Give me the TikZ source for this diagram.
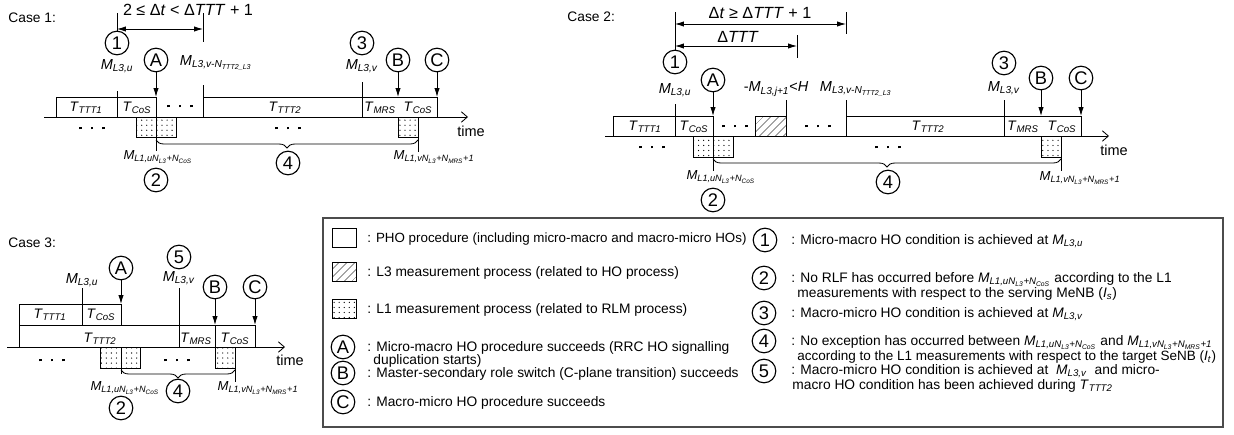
\documentclass[tikz,border=0pt]{standalone}
\usepackage{fontspec}
\setmainfont{Liberation Sans}
\usepackage{tikz}
\usetikzlibrary{arrows.meta, patterns.meta, decorations.pathreplacing}

\newcommand{\Mi}[1]{\textit{M}\textsubscript{\textit{#1}}}
\newcommand{\Ti}[1]{\textit{T}\textsubscript{\textit{#1}}}
\newcommand{\MuL}{\textit{M}\textsubscript{\textit{L1,uN}\textsubscript{\textit{L3}}\textit{+N}\textsubscript{\textit{CoS}}}}
\newcommand{\MvL}{\textit{M}\textsubscript{\textit{L1,vN}\textsubscript{\textit{L3}}\textit{+N}\textsubscript{\textit{MRS}}\textit{+1}}}
\newcommand{\MvN}{\textit{M}\textsubscript{\textit{L3,v-N}\textsubscript{\textit{TTT2\_L3}}}}
\newcommand{\tdots}{\rule{2.1pt}{2.1pt}\hspace{6.4pt}\rule{2.1pt}{2.1pt}\hspace{6.4pt}\rule{2.1pt}{2.1pt}}

\begin{document}
\begin{tikzpicture}[x=0.025cm, y=-0.025cm, line width=0.6pt,
    lab/.style={font=\fontsize{10.3}{12}\selectfont, inner sep=0pt},
    small/.style={font=\fontsize{9.3}{11}\selectfont, inner sep=0pt},
    tlab/.style={font=\fontsize{9.8}{11}\selectfont, inner sep=0pt},
    big/.style={font=\fontsize{11.5}{13}\selectfont, inner sep=0pt},
    num/.style={circle, draw, line width=0.8pt, minimum size=0.59cm,
                inner sep=0pt, font=\fontsize{13}{14}\selectfont},
    txt/.style={anchor=base west, yshift=-0.12cm, inner sep=0pt,
                font=\fontsize{9.8}{11.5}\selectfont},
    key/.style={draw, minimum width=0.6cm, minimum height=0.475cm, inner sep=0pt},
    dotbox/.style={draw, pattern={Dots[distance=3.6pt,radius=0.45pt]}},
    hatchbox/.style={draw, pattern={Lines[angle=45,distance=4pt,line width=0.45pt]}},
    brc/.style={decorate, decoration={brace, amplitude=0.2cm}},
    arr/.style={-{Latex[length=2.2mm,width=1.3mm]}},
    darr/.style={{Latex[length=2.2mm,width=1.3mm]}-{Latex[length=2.2mm,width=1.3mm]}},
    axarr/.style={-{Straight Barb[length=1.5mm,width=2.6mm]}}]
  \useasboundingbox (0,0) rectangle (1234,434);

  % ---------------- Case 1
  \node[txt] (case1) at (8,18) {Case 1:};
  \draw[axarr] (44,117) -- (468,117);
  \node[lab] (time1) at (471,131) {time};
  \draw (56,97) rectangle (156,117);
  \draw (203,97) rectangle (437,117);
  \draw[dotbox] (136,117) rectangle (176,137);
  \draw[dotbox] (398,117) rectangle (418,137);
  \node[tlab] (t11) at (86,108) {\Ti{TTT1}};
  \node[tlab] (t12) at (137,108) {\Ti{CoS}};
  \node[tlab] (t13) at (285,108) {\Ti{TTT2}};
  \node[tlab] (t14) at (380,108) {\Ti{MRS}};
  \node[tlab] (t15) at (418,108) {\Ti{CoS}};
  \node (d11) at (180,106) {\tdots};
  \node (d12) at (92,128) {\tdots};
  \node (d13) at (288,128) {\tdots};
  \node[num] (n1a) at (117,43) {1};
  \draw (117,13) -- (n1a);
  \node[lab] (m1u) at (117,66) {\Mi{L3,u}};
  \draw (117,91) -- (117,117);
  \draw (203,13) -- (203,42);
  \node[lab] (m1n) at (216,63) {\MvN};
  \draw (203,85) -- (203,97);
  \draw[darr] (117,29) -- (203,29);
  \node[big] (dt1) at (188,10) {2 ≤  Δ\textit{t} < Δ\textit{TTT} + 1};
  \node[num] (A1) at (156,60) {A};
  \coordinate (a1) at (156,97);
  \draw[arr] (A1) -- (a1);
  \draw (a1) -- (156,151);
  \node[small] (ml1u) at (158,157) {\MuL};
  \node[num] (n2a) at (156,180) {2};
  \draw[brc] (418,140) -- (156,140);
  \node[num] (n4a) at (288,163) {4};
  \node[num] (n3a) at (362,43) {3};
  \node[lab] (m1v) at (362,66) {\Mi{L3,v}};
  \draw (362,82) -- (362,117);
  \node[num] (B1) at (398,60) {B};
  \coordinate (b1) at (398,97);
  \draw[arr] (B1) -- (b1);
  \node[num] (C1) at (437,60) {C};
  \coordinate (c1) at (437,97);
  \draw[arr] (C1) -- (c1);
  \draw (418,117) -- (418,152);
  \node[small] (ml1v) at (434,157) {\MvL};

  % ---------------- Case 2
  \node[txt] (case2) at (567,17) {Case 2:};
  \draw[axarr] (605,136) -- (1109,136);
  \node[lab] (time2) at (1114,150) {time};
  \draw (613,116) rectangle (713,136);
  \draw[hatchbox] (755,116) rectangle (786,136);
  \draw (846,116) rectangle (1081,136);
  \draw[dotbox] (693,136) rectangle (733,157);
  \draw[dotbox] (1041,136) rectangle (1061,157);
  \node[tlab] (t21) at (645,127) {\Ti{TTT1}};
  \node[tlab] (t22) at (694,127) {\Ti{CoS}};
  \node[tlab] (t23) at (928,127) {\Ti{TTT2}};
  \node[tlab] (t24) at (1023,127) {\Ti{MRS}};
  \node[tlab] (t25) at (1062,127) {\Ti{CoS}};
  \node (d21) at (735,126) {\tdots};
  \node (d22) at (818,126) {\tdots};
  \node (d23) at (652,147) {\tdots};
  \node (d24) at (888,147) {\tdots};
  \node[num] (n1b) at (675,62) {1};
  \draw (675,12) -- (n1b);
  \draw[darr] (675,24) -- (846,24);
  \draw (846,12) -- (846,34);
  \node[big] (dt2) at (760,13) {Δ\textit{t} ≥  Δ\textit{TTT} + 1};
  \draw[darr] (675,46) -- (797,46);
  \draw (797,35) -- (797,58);
  \node[big] (dtt) at (738,37) {Δ\textit{TTT}};
  \node[lab] (m2u) at (675,90) {\Mi{L3,u}};
  \draw (675,104) -- (675,136);
  \node[num] (A2) at (713,80) {A};
  \coordinate (a2) at (713,116);
  \draw[arr] (A2) -- (a2);
  \draw (a2) -- (713,171);
  \node[lab] (mj) at (776,89) {-\Mi{L3,j+1}<\textit{H}};
  \draw (786,100) -- (786,116);
  \node[lab] (m2n) at (856,89) {\MvN};
  \draw (846,100) -- (846,116);
  \node[num] (n3b) at (1004,63) {3};
  \node[lab] (m2v) at (1004,88) {\Mi{L3,v}};
  \draw (1004,100) -- (1004,136);
  \node[num] (B2) at (1041,78) {B};
  \coordinate (b2) at (1041,116);
  \draw[arr] (B2) -- (b2);
  \node[num] (C2) at (1081,78) {C};
  \coordinate (c2) at (1081,116);
  \draw[arr] (C2) -- (c2);
  \draw (1061,136) -- (1061,171);
  \node[small] (ml2v) at (1080,178) {\MvL};
  \draw[brc] (1061,159) -- (713,159);
  \node[num] (n4b) at (888,182) {4};
  \node[small] (ml2u) at (721,177) {\MuL};
  \node[num] (n2b) at (713,200) {2};

  % ---------------- Case 3
  \node[txt] (case3) at (8,243) {Case 3:};
  \draw[axarr] (7,347) -- (285,347);
  \node[lab] (time3) at (290,360) {time};
  \draw (19,304) rectangle (121,325);
  \draw (19,325) rectangle (255,347);
  \draw (215,325) -- (215,347);
  \draw[dotbox] (100,347) rectangle (140,368);
  \draw[dotbox] (215,347) rectangle (235,368);
  \node[tlab] (t31) at (50,315) {\Ti{TTT1}};
  \node[tlab] (t32) at (101,315) {\Ti{CoS}};
  \node[tlab] (t33) at (100,339) {\Ti{TTT2}};
  \node[tlab] (t34) at (196,339) {\Ti{MRS}};
  \node[tlab] (t35) at (235,339) {\Ti{CoS}};
  \node (d31) at (52,360) {\tdots};
  \node (d32) at (177,360) {\tdots};
  \node[lab] (m3u) at (82,280) {\Mi{L3,u}};
  \draw (82,288) -- (82,325);
  \node[num] (A3) at (121,268) {A};
  \coordinate (a3) at (121,304);
  \draw[arr] (A3) -- (a3);
  \draw (121,347) -- (121,374);
  \node[num] (n5c) at (179,257) {5};
  \node[lab] (m3v) at (179,278) {\Mi{L3,v}};
  \draw (179,288) -- (179,347);
  \node[num] (B3) at (215,287) {B};
  \coordinate (b3) at (215,325);
  \draw[arr] (B3) -- (b3);
  \node[num] (C3) at (255,287) {C};
  \coordinate (c3) at (255,325);
  \draw[arr] (C3) -- (c3);
  \draw (235,347) -- (235,382);
  \draw[brc] (235,370) -- (121,370);
  \node[num] (n4c) at (178,391) {4};
  \node[small] (ml3u) at (125,388) {\MuL};
  \node[num] (n2c) at (121,408) {2};
  \node[small] (ml3v) at (258,388) {\MvL};

  % ---------------- legend
  \draw[draw=black!70, line width=0.8pt] (323,218) rectangle (1223,427);
  \node[key] (k1) at (344,238) {};
  \node[txt, font=\fontsize{9.5}{11.5}\selectfont] (k1t) at (367,238) {: PHO procedure (including micro-macro and macro-micro HOs)};
  \node[key, hatchbox] (k2) at (344,272) {};
  \node[txt] (k2t) at (367,272) {: L3 measurement process  (related to HO process)};
  \node[key, dotbox] (k3) at (344,309) {};
  \node[txt] (k3t) at (367,309) {: L1 measurement process (related to RLM process)};
  \node[num] (kA) at (343,347) {A};
  \node[txt] (kAt) at (367,347) {: Micro-macro HO procedure succeeds (RRC HO signalling};
  \node[txt] (kAu) at (373,360) {duplication starts)};
  \node[num] (kB) at (343,373) {B};
  \node[txt] (kBt) at (367,373) {: Master-secondary role switch (C-plane transition) succeeds};
  \node[num] (kC) at (343,402) {C};
  \node[txt] (kCt) at (367,402) {: Macro-micro HO procedure succeeds};
  \node[num] (k1n) at (765,240) {1};
  \node[txt] (k1m) at (791,240) {: Micro-macro HO condition is achieved at \Mi{L3,u}};
  \node[num] (k2n) at (764,278) {2};
  \node[txt] (k2m) at (791,278) {: No RLF has occurred before \MuL{} according to the L1};
  \node[txt] (k2u) at (797,293) {measurements with respect to the serving MeNB (\textit{I}\textsubscript{\textit{s}})};
  \node[num] (k3n) at (764,313) {3};
  \node[txt] (k3m) at (791,313) {: Macro-micro HO condition is achieved at \Mi{L3,v}};
  \node[num] (k4n) at (764,341) {4};
  \node[txt] (k4m) at (791,341) {: No exception has occurred between \MuL{} and \MvL};
  \node[txt, font=\fontsize{9.6}{11.5}\selectfont] (k4u) at (797,356) {according to the L1 measurements with respect to the target SeNB (\textit{I}\textsubscript{\textit{t}})};
  \node[num] (k5n) at (764,371) {5};
  \node[txt] (k5m) at (791,370) {: Macro-micro HO condition is achieved at \ \Mi{L3,v} \ and micro-};
  \node[txt] (k5u) at (792,385) {macro HO condition has been achieved during \Ti{TTT2}};
\end{tikzpicture}
\end{document}
